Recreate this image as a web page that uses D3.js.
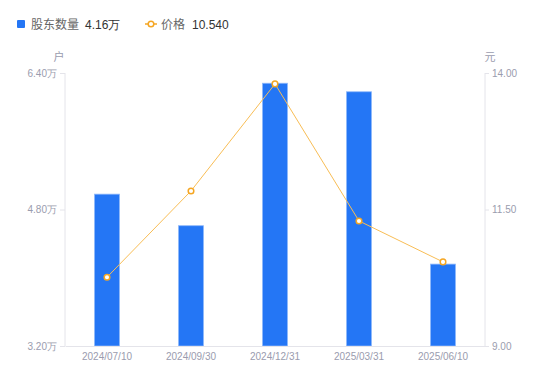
<!DOCTYPE html>
<html>
<head>
<meta charset="utf-8">
<script src="https://cdn.jsdelivr.net/npm/d3@7"></script>
<style>
  body { margin: 0; background: #fff; font-family: "Noto Sans CJK SC", "Noto Sans", sans-serif; }
</style>
</head>
<body>
<div id="chart"></div>
<script>
// Data
const dates = ["2024/07/10", "2024/09/30", "2024/12/31", "2025/03/31", "2025/06/10"];
const holders = [4.98, 4.61, 6.28, 6.18, 4.16]; // 万户
const prices = [10.26, 11.84, 13.80, 11.29, 10.54]; // 元
const leftTicks = [3.2, 4.8, 6.4];
const rightTicks = [9, 11.5, 14];

const width = 550, height = 381;
const margin = { top: 73, right: 65, bottom: 35, left: 65 };

const svg = d3.select("#chart").append("svg")
    .attr("width", width)
    .attr("height", height);

const x = d3.scaleBand()
    .domain(dates)
    .range([margin.left, width - margin.right]);

const yLeft = d3.scaleLinear()
    .domain([3.2, 6.4])
    .range([height - margin.bottom, margin.top]);

const yRight = d3.scaleLinear()
    .domain([9, 14])
    .range([height - margin.bottom, margin.top]);

const axisColor = "#e4e4ea";
const labelColor = "#9a9cae";

// Bars
svg.append("g")
    .selectAll("rect")
    .data(holders)
    .join("rect")
    .attr("x", (d, i) => x(dates[i]) + x.bandwidth() / 2 - 12.5)
    .attr("y", d => yLeft(d))
    .attr("width", 25)
    .attr("height", d => yLeft(3.2) - yLeft(d))
    .attr("fill", "#2476f5")
    .attr("stroke", "#8fb8fa")
    .attr("stroke-width", 0.8);

// Left axis
const gl = svg.append("g")
    .attr("transform", `translate(${margin.left},0)`)
    .call(d3.axisLeft(yLeft).tickValues(leftTicks).tickSize(5).tickPadding(3)
        .tickFormat(d => d3.format(".2f")(d) + "万"));
gl.select(".domain").attr("stroke", axisColor).attr("d", `M0,${margin.top}V${height - margin.bottom}`);
gl.selectAll(".tick line").attr("stroke", axisColor);
gl.selectAll("text").attr("fill", labelColor).style("font-size", "10px").style("font-family", "Liberation Sans, Arial, sans-serif");

// Right axis
const gr = svg.append("g")
    .attr("transform", `translate(${width - margin.right},0)`)
    .call(d3.axisRight(yRight).tickValues(rightTicks).tickSize(4).tickPadding(3)
        .tickFormat(d3.format(".2f")));
gr.select(".domain").attr("stroke", axisColor).attr("d", `M0,${margin.top}V${height - margin.bottom}`);
gr.selectAll(".tick line").attr("stroke", axisColor);
gr.selectAll("text").attr("fill", labelColor).style("font-size", "10px").style("font-family", "Liberation Sans, Arial, sans-serif");

// Bottom axis
const gb = svg.append("g")
    .attr("transform", `translate(0,${height - margin.bottom})`)
    .call(d3.axisBottom(x).tickSize(0).tickPadding(7));
gb.select(".domain").attr("stroke", axisColor);
gb.selectAll("text").attr("fill", labelColor).style("font-size", "10px").style("font-family", "Liberation Sans, Arial, sans-serif");

// Axis units
svg.append("text")
    .attr("x", 59).attr("y", 61)
    .attr("text-anchor", "middle")
    .attr("fill", labelColor)
    .style("font-size", "11px")
    .text("户");
svg.append("text")
    .attr("x", 490).attr("y", 61)
    .attr("text-anchor", "middle")
    .attr("fill", labelColor)
    .style("font-size", "11px")
    .text("元");

// Price line
const line = d3.line()
    .x((d, i) => x(dates[i]) + x.bandwidth() / 2)
    .y(d => yRight(d));

svg.append("path")
    .datum(prices)
    .attr("fill", "none")
    .attr("stroke", "#f8bd55")
    .attr("stroke-width", 1)
    .attr("d", line);

svg.append("g")
    .selectAll("circle")
    .data(prices)
    .join("circle")
    .attr("cx", (d, i) => x(dates[i]) + x.bandwidth() / 2)
    .attr("cy", d => yRight(d))
    .attr("r", 2.8)
    .attr("fill", "#fff")
    .attr("stroke", "#f5a623")
    .attr("stroke-width", 1.5);

// Legend
const legend = svg.append("g").style("font-size", "12px");
legend.append("rect")
    .attr("x", 17).attr("y", 20).attr("width", 8).attr("height", 8).attr("rx", 1)
    .attr("fill", "#2476f5");
legend.append("text").attr("x", 31).attr("y", 29).attr("fill", "#666").text("股东数量");
legend.append("text").attr("x", 85).attr("y", 29).attr("fill", "#333")
    .style("font-family", "Liberation Sans, Arial, sans-serif").text("4.16万");

legend.append("line")
    .attr("x1", 145).attr("x2", 157).attr("y1", 24).attr("y2", 24)
    .attr("stroke", "#f5a623").attr("stroke-width", 1.5);
legend.append("circle")
    .attr("cx", 151).attr("cy", 24).attr("r", 2.8)
    .attr("fill", "#fff").attr("stroke", "#f5a623").attr("stroke-width", 1.5);
legend.append("text").attr("x", 161).attr("y", 29).attr("fill", "#666").text("价格");
legend.append("text").attr("x", 192).attr("y", 29).attr("fill", "#333")
    .style("font-family", "Liberation Sans, Arial, sans-serif").text("10.540");
</script>
</body>
</html>
